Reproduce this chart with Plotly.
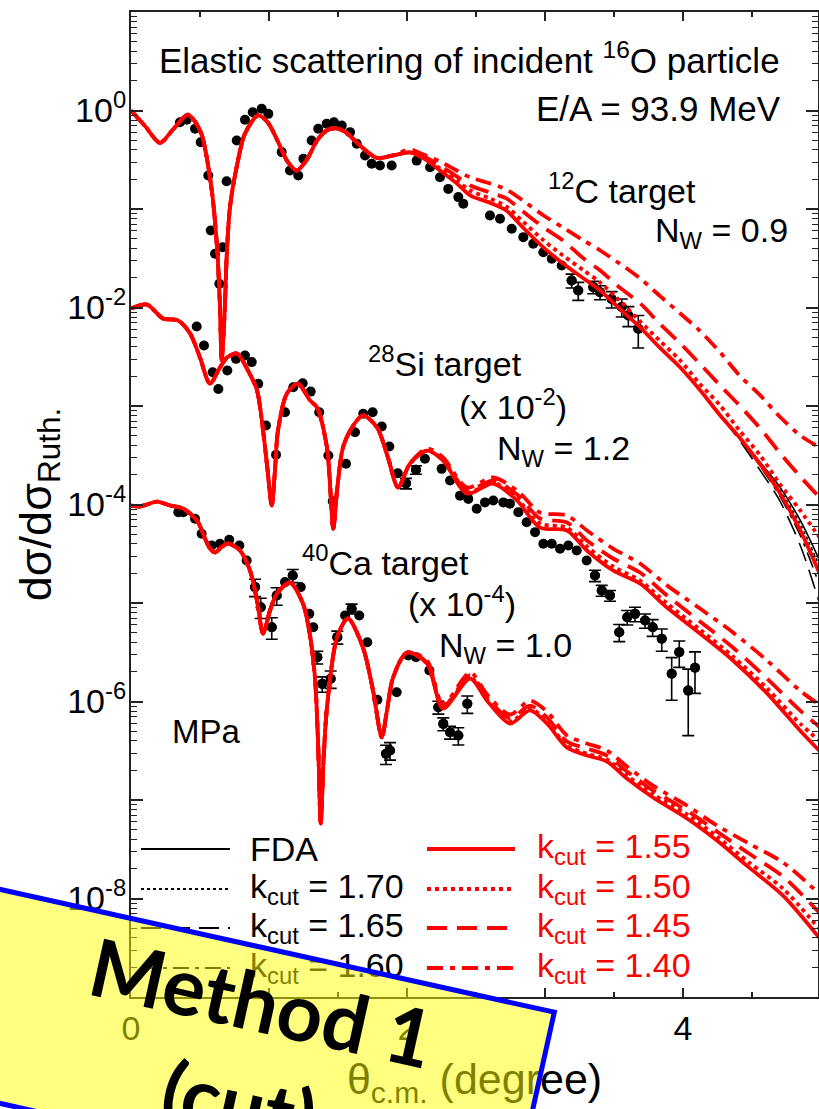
import plotly.graph_objects as go

# ---------------- Experimental data (values as plotted) ----------------
C12_X = [0.355, 0.404, 0.464, 0.505, 0.560, 0.578, 0.609, 0.640, 0.664, 0.693, 0.766, 0.826, 0.882, 0.947,
         0.995, 1.092, 1.152, 1.212, 1.249, 1.309, 1.357, 1.418, 1.471, 1.527, 1.587, 1.636, 1.696, 1.744,
         1.804, 1.889, 2.070, 2.167, 2.239, 2.299, 2.372, 2.408, 2.601, 2.674, 2.759, 2.843, 2.915, 2.988,
         3.049, 3.121, 3.193, 3.241, 3.350, 3.399, 3.483, 3.556, 3.604, 3.676]
C12_Y = [0.760, 0.805, 0.652, 0.476, 0.219, 0.0605, 0.0351, 0.0174, 0.0409, 0.191, 0.495, 0.805, 0.961, 1.04,
         0.925, 0.378, 0.246, 0.219, 0.324, 0.495, 0.652, 0.733, 0.760, 0.705, 0.603, 0.459, 0.349, 0.288,
         0.277, 0.277, 0.310, 0.265, 0.210, 0.160, 0.132, 0.113, 0.0859, 0.0796, 0.0630, 0.0518, 0.0444, 0.0364,
         0.0312, 0.0267, 0.0188, 0.0149, 0.0161, 0.0143, 0.0122, 0.0101, 0.00830, 0.00608]
C12_ERR = [0, 0, 0, 0, 0, 0, 0, 0, 0, 0, 0, 0, 0, 0,
           0, 0, 0, 0, 0, 0, 0, 0, 0, 0, 0, 0, 0, 0,
           0, 0, 0, 0, 0, 0, 0, 0, 0, 0, 0, 0, 0, 0,
           0, 0, 0.0030, 0.0031, 0.0023, 0.0023, 0.0023, 0.0021, 0.0019, 0.0022]

SI28_X = [0.476, 0.529, 0.592, 0.633, 0.698, 0.761, 0.826, 0.875, 0.922, 0.978, 1.051, 1.116, 1.176, 1.244,
          1.302, 1.364, 1.430, 1.462, 1.558, 1.623, 1.683, 1.751, 1.817, 1.872, 1.933, 1.993, 2.065, 2.130,
          2.251, 2.312, 2.384, 2.444, 2.505, 2.565, 2.625, 2.698, 2.746, 2.807, 2.867, 2.928, 2.988, 3.049,
          3.109, 3.169, 3.230, 3.302, 3.362, 3.411, 3.471, 3.538, 3.596, 3.652, 3.725, 3.780, 3.846, 3.918,
          3.973, 4.038, 4.087]
SI28_Y = [6.41e-3, 4.11e-3, 2.20e-3, 1.49e-3, 2.29e-3, 3.01e-3, 3.26e-3, 2.79e-3, 1.68e-3, 6.34e-4, 3.20e-4,
          8.65e-4, 1.55e-3, 1.70e-3, 1.40e-3, 8.65e-4, 3.14e-4, 1.08e-4, 2.59e-4, 5.42e-4, 8.34e-4, 8.65e-4,
          6.19e-4, 3.88e-4, 2.08e-4, 1.64e-4, 2.25e-4, 2.91e-4, 2.30e-4, 1.75e-4, 1.23e-4, 1.14e-4, 9.04e-5,
          1.05e-4, 1.10e-4, 1.05e-4, 1.02e-4, 8.36e-5, 6.61e-5, 5.24e-5, 3.99e-5, 3.99e-5, 3.55e-5, 3.84e-5,
          3.41e-5, 2.70e-5, 1.90e-5, 1.34e-5, 1.19e-5, 5.05e-6, 7.18e-6, 7.76e-6, 6.64e-6, 5.68e-6, 4.34e-6,
          1.91e-6, 3.17e-6, 1.29e-6, 2.20e-6]
SI28_ERR = [0, 0, 0, 0, 0, 0, 0, 0, 0, 0, 0,
            0, 0, 0, 0, 0, 0, 0, 0, 0, 0, 0,
            0, 0, 0, 2.0e-5, 2.2e-5, 0, 0, 0, 0, 0, 0,
            0, 0, 0, 0, 0, 0, 0, 0, 0, 0, 0,
            0, 0, 2.5e-6, 1.7e-6, 1.5e-6, 1.0e-6, 1.2e-6, 1.3e-6, 1.1e-6, 1.1e-6, 1.1e-6,
            8.8e-7, 9.5e-7, 8.4e-7, 9.9e-7]

CA40_X = [0.343, 0.379, 0.464, 0.512, 0.585, 0.645, 0.712, 0.785, 0.838, 0.899, 0.940, 1.020, 1.056, 1.116,
          1.172, 1.230, 1.292, 1.321, 1.350, 1.386, 1.447, 1.495, 1.551, 1.599, 1.654, 1.712, 1.785, 1.848,
          1.877, 1.925, 2.009, 2.065, 2.162, 2.227, 2.263, 2.312, 2.372, 2.437]
CA40_Y = [8.36e-5, 8.36e-5, 7.16e-5, 5.04e-5, 3.84e-5, 3.99e-5, 4.39e-5, 3.84e-5, 2.70e-5, 1.45e-5, 9.06e-6,
          5.68e-6, 1.19e-5, 1.63e-5, 1.90e-5, 1.45e-5, 7.76e-6, 5.68e-6, 2.82e-6, 1.51e-6, 1.70e-6, 4.50e-6,
          7.46e-6, 8.73e-6, 7.46e-6, 4.00e-6, 1.04e-6, 2.94e-7, 3.18e-7, 1.24e-6, 2.93e-6, 2.82e-6, 2.07e-6,
          8.75e-7, 5.93e-7, 4.88e-7, 4.52e-7, 9.48e-7]
CA40_ERR = [0, 0, 0, 0, 0, 0, 0, 0, 0, 2.9e-6, 2.1e-6,
            1.4e-6, 2.4e-6, 0, 2.9e-6, 0, 0, 0, 4.2e-7, 2.7e-7, 3.4e-7, 6.8e-7,
            0, 1.0e-6, 0, 0, 0, 6.5e-8, 6.4e-8, 0, 0, 0, 0,
            1.3e-7, 8.9e-8, 7.3e-8, 9.0e-8, 1.9e-7]

# ---------------- Calculated curves ----------------
# 12C (N_W = 0.9)
C12_TH_X = [0.00, 0.10, 0.21, 0.30, 0.41, 0.45, 0.51, 0.54, 0.59, 0.625, 0.645, 0.657, 0.68, 0.693, 0.717,
            0.765, 0.826, 0.92, 0.99, 1.06, 1.13, 1.20, 1.27, 1.35, 1.42, 1.48, 1.55, 1.66, 1.78, 1.90,
            2.02, 2.12, 2.24, 2.36, 2.46, 2.60, 2.72, 2.84, 2.99, 3.13, 3.28, 3.40, 3.54, 3.69, 3.83, 3.98,
            4.12, 4.27, 4.41, 4.56, 4.70, 4.85, 4.99]
C12_COMMON = [1.0, 0.70, 0.47, 0.63, 0.91, 0.82, 0.58, 0.39, 0.137, 0.0379, 0.0100, 0.0029, 0.0100, 0.0322,
              0.104, 0.264, 0.583, 0.89, 0.76, 0.50, 0.31, 0.246, 0.31, 0.50, 0.63, 0.66, 0.61, 0.44, 0.33, 0.35]
C12_MID = [0.375, 0.326, 0.246, 0.182, 0.137, 0.116, 0.0966, 0.0649, 0.0406, 0.0280, 0.0197, 0.0149,
           0.00977, 0.00627, 0.00393, 0.00246, 0.00147, 0.000802]
C12_FDA = C12_COMMON + C12_MID + [0.000479, 0.000267, 0.000152, 6.89e-5, 2.70e-5]
C12_K170 = C12_COMMON + C12_MID + [0.000479, 0.000261, 0.000142, 6.27e-5, 2.35e-5]
C12_K165 = C12_COMMON + C12_MID + [0.000447, 0.000221, 0.000110, 3.84e-5, 9.89e-6]
C12_K160 = C12_COMMON + C12_MID + [0.000468, 0.000243, 0.000123, 4.84e-5, 1.51e-5]
C12_K155 = C12_COMMON + C12_MID + [0.000479, 0.000255, 0.000132, 5.45e-5, 1.99e-5]
C12_K150 = C12_COMMON + [0.375, 0.333, 0.258, 0.195, 0.154, 0.128, 0.106, 0.0746, 0.0479, 0.0337, 0.0238,
                         0.0179, 0.0118, 0.00721, 0.00462, 0.00290, 0.00169, 0.00101, 0.000564, 0.000314,
                         0.000163, 8.69e-5, 4.62e-5]
C12_K145 = C12_COMMON + [0.375, 0.341, 0.277, 0.214, 0.173, 0.147, 0.128, 0.0944, 0.0649, 0.0479, 0.0314,
                         0.0238, 0.0160, 0.0110, 0.00689, 0.00432, 0.00270, 0.00161, 0.00101, 0.000592,
                         0.000337, 0.000192, 0.000118]
C12_K140 = C12_COMMON + [0.402, 0.357, 0.303, 0.246, 0.209, 0.182, 0.158, 0.122, 0.0859, 0.0649, 0.0479,
                         0.0379, 0.0280, 0.0197, 0.0132, 0.00869, 0.00583, 0.00349, 0.00204, 0.00128,
                         0.000782, 0.000502, 0.000379]

# 28Si (x 10^-2, N_W = 1.2)
SI28_TH_X = [0.000, 0.116, 0.232, 0.341, 0.428, 0.500, 0.572, 0.645, 0.696, 0.768, 0.848, 0.913, 0.957, 0.986,
             1.020, 1.043, 1.065, 1.130, 1.210, 1.297, 1.348, 1.420, 1.466, 1.493, 1.536, 1.601, 1.681, 1.783,
             1.862, 1.935, 2.022, 2.145, 2.261, 2.435, 2.623, 2.797, 2.964, 3.159, 3.304, 3.493, 3.688, 3.884,
             4.123, 4.362, 4.609, 4.848, 4.986]
SI28_COMMON = [9.77e-3, 1.07e-2, 7.73e-3, 7.38e-3, 5.45e-3, 3.10e-3, 1.69e-3, 2.46e-3, 3.10e-3, 3.41e-3,
               2.29e-3, 1.44e-3, 5.64e-4, 2.49e-4, 9.77e-5, 2.21e-4, 5.64e-4, 1.34e-3, 1.69e-3, 1.14e-3,
               9.66e-4, 3.79e-4, 5.70e-5, 1.39e-4, 3.79e-4, 6.05e-4, 8.02e-4, 6.05e-4, 3.00e-4, 1.49e-4, 2.61e-4]
SI28_K155 = SI28_COMMON + [3.53e-4, 2.80e-4, 1.29e-4, 1.63e-4, 1.10e-4, 5.83e-5, 5.45e-5, 3.41e-5, 2.14e-5,
                           1.58e-5, 8.99e-6, 4.90e-6, 2.61e-6, 1.21e-6, 5.08e-7, 3.18e-7]
SI28_FDA = SI28_K155
SI28_K170 = SI28_K155
SI28_K165 = SI28_K155
SI28_K160 = SI28_K155
SI28_K150 = SI28_COMMON + [3.53e-4, 2.80e-4, 1.32e-4, 1.67e-4, 1.15e-4, 6.41e-5, 5.83e-5, 3.75e-5, 2.35e-5,
                           1.69e-5, 9.89e-6, 5.38e-6, 2.86e-6, 1.36e-6, 5.98e-7, 4.02e-7]
SI28_K145 = SI28_COMMON + [3.53e-4, 2.86e-4, 1.39e-4, 1.75e-4, 1.26e-4, 7.21e-5, 6.56e-5, 4.32e-5, 2.83e-5,
                           2.04e-5, 1.19e-5, 6.49e-6, 3.53e-6, 1.71e-6, 8.11e-7, 5.57e-7]
SI28_K140 = SI28_COMMON + [3.71e-4, 3.00e-4, 1.49e-4, 1.88e-4, 1.39e-4, 8.30e-5, 7.73e-5, 5.45e-5, 3.57e-5,
                           2.52e-5, 1.51e-5, 8.79e-6, 5.02e-6, 2.61e-6, 1.29e-6, 9.33e-7]

# 40Ca (x 10^-4, N_W = 1.0)
CA40_TH_X = [0.000, 0.065, 0.116, 0.188, 0.283, 0.377, 0.478, 0.536, 0.572, 0.609, 0.652, 0.703, 0.790, 0.862,
             0.913, 0.957, 1.007, 1.058, 1.152, 1.246, 1.297, 1.333, 1.355, 1.375, 1.395, 1.420, 1.493, 1.572,
             1.681, 1.754, 1.817, 1.855, 1.899, 2.000, 2.145, 2.261, 2.457, 2.580, 2.746, 2.891, 3.014, 3.159,
             3.304, 3.449, 3.594, 3.783, 4.029, 4.246, 4.478, 4.725, 4.986]
CA40_COMMON = [9.77e-5, 9.55e-5, 1.00e-4, 1.07e-4, 9.77e-5, 9.10e-5, 6.89e-5, 4.52e-5, 3.57e-5, 3.26e-5,
               3.66e-5, 4.02e-5, 3.41e-5, 2.14e-5, 1.06e-5, 4.90e-6, 8.39e-6, 1.25e-5, 1.61e-5, 9.89e-6,
               4.68e-6, 1.75e-6, 4.02e-7, 5.77e-8, 2.52e-7, 8.69e-7, 4.47e-6, 6.97e-6, 3.53e-6, 1.29e-6,
               4.32e-7, 8.11e-7, 1.75e-6, 3.14e-6]
CA40_K155 = CA40_COMMON + [2.43e-6, 8.49e-7, 1.71e-6, 1.02e-6, 5.98e-7, 8.11e-7, 5.98e-7, 3.41e-7, 2.83e-7,
                           2.46e-7, 1.65e-7, 1.06e-7, 6.49e-8, 3.88e-8, 2.07e-8, 1.07e-8, 4.02e-9]
CA40_FDA = CA40_K155
CA40_K170 = CA40_K155
CA40_K165 = CA40_K155
CA40_K160 = CA40_K155
CA40_K150 = CA40_COMMON + [2.43e-6, 8.69e-7, 1.75e-6, 1.05e-6, 6.27e-7, 8.49e-7, 6.27e-7, 3.57e-7, 2.96e-7,
                           2.58e-7, 1.77e-7, 1.14e-7, 7.13e-8, 4.26e-8, 2.32e-8, 1.26e-8, 4.95e-9]
CA40_K145 = CA40_COMMON + [2.49e-6, 8.89e-7, 1.84e-6, 1.10e-6, 6.71e-7, 9.10e-7, 6.89e-7, 3.93e-7, 3.33e-7,
                           2.83e-7, 1.95e-7, 1.25e-7, 7.82e-8, 4.79e-8, 2.86e-8, 1.67e-8, 7.21e-9]
CA40_K140 = CA40_COMMON + [2.61e-6, 9.33e-7, 1.97e-6, 1.18e-6, 7.38e-7, 1.02e-6, 7.91e-7, 4.52e-7, 3.75e-7,
                           3.18e-7, 2.19e-7, 1.40e-7, 8.79e-8, 5.51e-8, 3.61e-8, 2.32e-8, 1.12e-8]

CURVE_LABELS = ["FDA", "k<sub>cut</sub> = 1.70", "k<sub>cut</sub> = 1.65", "k<sub>cut</sub> = 1.60",
                "k<sub>cut</sub> = 1.55", "k<sub>cut</sub> = 1.50", "k<sub>cut</sub> = 1.45", "k<sub>cut</sub> = 1.40"]

# ---------------- styles ----------------
FONT = "Liberation Sans, Arial, sans-serif"
RED = "#ff0000"
STYLES = [("black", 1.6, "solid"), ("black", 1.6, "3px,3px"), ("black", 1.6, "20px,9px"),
          ("black", 1.6, "16px,6px,4px,6px"),
          (RED, 3.8, "solid"), (RED, 3.8, "4px,4px"), (RED, 3.8, "20px,10px"), (RED, 3.8, "16px,7px,5px,7px")]

fig = go.Figure()

# experimental points
for xs, ys, errs in [(C12_X, C12_Y, C12_ERR), (SI28_X, SI28_Y, SI28_ERR), (CA40_X, CA40_Y, CA40_ERR)]:
    fig.add_trace(go.Scatter(x=xs, y=ys, mode="markers", marker=dict(color="black", size=10),
                             showlegend=False, hoverinfo="skip"))
    fig.add_trace(go.Scatter(x=xs, y=[y if e else None for y, e in zip(ys, errs)], mode="markers",
                             marker=dict(color="black", size=10),
                             error_y=dict(type="data", array=errs, visible=True, color="black",
                                          thickness=1.6, width=6),
                             showlegend=False, hoverinfo="skip"))

# calculations (black first, red on top)
SETS = [
    (C12_TH_X, [C12_FDA, C12_K170, C12_K165, C12_K160, C12_K155, C12_K150, C12_K145, C12_K140]),
    (SI28_TH_X, [SI28_FDA, SI28_K170, SI28_K165, SI28_K160, SI28_K155, SI28_K150, SI28_K145, SI28_K140]),
    (CA40_TH_X, [CA40_FDA, CA40_K170, CA40_K165, CA40_K160, CA40_K155, CA40_K150, CA40_K145, CA40_K140]),
]
for idx in range(8):
    col, w, dash = STYLES[idx]
    for xs, curves in SETS:
        fig.add_trace(go.Scatter(x=xs, y=curves[idx], mode="lines", name=CURVE_LABELS[idx],
                                 line=dict(color=col, width=w, dash=dash, shape="spline", smoothing=0.8),
                                 showlegend=False, hoverinfo="skip"))

# ---------------- layout ----------------
L, R, T, B = 131, 1, 12, 112
W, H = 819, 1109
PW, PH = W - L - R, H - T - B


def px(x, y):
    return (x - L) / PW, (H - B - y) / PH


annotations = []


def add_text(text, x, y, xanchor="left", color="black", size=34, yanchor="middle"):
    xp, yp = px(x, y)
    annotations.append(dict(text=text, x=xp, y=yp, xref="paper", yref="paper", xanchor=xanchor,
                            yanchor=yanchor, showarrow=False, font=dict(family=FONT, size=size, color=color)))


add_text("Elastic scattering of incident <sup>16</sup>O particle", 469, 58, "center", size=35)
add_text("E/A = 93.9 MeV", 783, 108, "right", size=35)
add_text("<sup>12</sup>C target", 546, 188, "left")
add_text("N<sub>W</sub> = 0.9", 790, 232, "right")
add_text("<sup>28</sup>Si target", 366, 362, "left")
add_text("(x 10<sup>-2</sup>)", 457, 404, "left")
add_text("N<sub>W</sub> = 1.2", 632, 450, "right")
add_text("<sup>40</sup>Ca target", 300, 560, "left")
add_text("(x 10<sup>-4</sup>)", 406, 601, "left")
add_text("N<sub>W</sub> = 1.0", 574, 647, "right")
add_text("MPa", 170, 731, "left", size=33)

# hand-drawn legend (two columns, long line samples)
shapes = []
ROWS = [849, 889, 928, 968]
for i in range(8):
    col, w, dash = STYLES[i]
    colx = 0 if i < 4 else 1
    yrow = ROWS[i % 4]
    x0, x1, xt = (141, 230, 248) if colx == 0 else (427, 515, 535)
    a, yp = px(x0, yrow)
    b, _ = px(x1, yrow)
    shapes.append(dict(type="line", xref="paper", yref="paper", x0=a, x1=b, y0=yp, y1=yp,
                       line=dict(color=col, width=w if colx else 1.8, dash=dash)))
    add_text(CURVE_LABELS[i], xt, yrow + (0 if i == 0 else -1), "left", color=col)

# overlay label box
cx, cy = px(251, 1052)
annotations.append(dict(text="<b>Method 1</b><br><b>(cut)</b>", x=cx, y=cy, xref="paper", yref="paper",
                        xanchor="center", yanchor="middle", showarrow=False, textangle=12.5,
                        bgcolor="rgba(255,255,0,0.5)", bordercolor="#0000ff", borderwidth=5, borderpad=0,
                        width=570, height=204, align="center", valign="middle",
                        font=dict(family="Lato, Noto Sans, sans-serif", size=80, color="black")))

minor_y = [k * 10.0 ** e for e in range(-9, 1) for k in range(2, 10)]
major_y = [10.0 ** e for e in range(-9, 2)]
major_txt = ["" if e % 2 else ("10<sup>%d</sup>" % e) for e in range(-9, 2)]
major_txt[-1] = ""

fig.update_layout(
    template="none",
    width=W, height=H,
    margin=dict(l=L, r=R, t=T, b=B, pad=0),
    paper_bgcolor="white", plot_bgcolor="white",
    font=dict(family=FONT, size=34, color="black"),
    showlegend=False,
    annotations=annotations,
    shapes=shapes,
    xaxis=dict(range=[0, PW / 138.0], showgrid=False, zeroline=False, showline=True, linecolor="#222",
               linewidth=2, mirror="ticks", ticks="inside", ticklen=9, tickwidth=1.5, tickcolor="#222",
               tickvals=[0, 1, 2, 3, 4], ticktext=["0", "", "2", "", "4"],
               tickfont=dict(family=FONT, size=34, color="black"),
               minor=dict(tickvals=[0.5, 1.5, 2.5, 3.5, 4.5], ticks="inside", ticklen=5, tickwidth=1.5,
                          tickcolor="#222"),
               title=dict(text="θ<sub>c.m.</sub> (degree)", font=dict(family=FONT, size=43), standoff=20)),
    yaxis=dict(type="log", range=[-9, 1], showgrid=False, zeroline=False, showline=True, linecolor="#222",
               linewidth=2, mirror="ticks", ticks="inside", ticklen=12, tickwidth=1.5, tickcolor="#222",
               tickvals=major_y, ticktext=major_txt, ticklabelstandoff=-4,
               tickfont=dict(family=FONT, size=34, color="black"),
               minor=dict(tickvals=minor_y, ticks="inside", ticklen=6, tickwidth=1.2, tickcolor="#222"),
               title=dict(text="dσ/dσ<sub>Ruth.</sub>", font=dict(family=FONT, size=45), standoff=0)),
)

fig.write_html("out.html", config={"displayModeBar": False})
